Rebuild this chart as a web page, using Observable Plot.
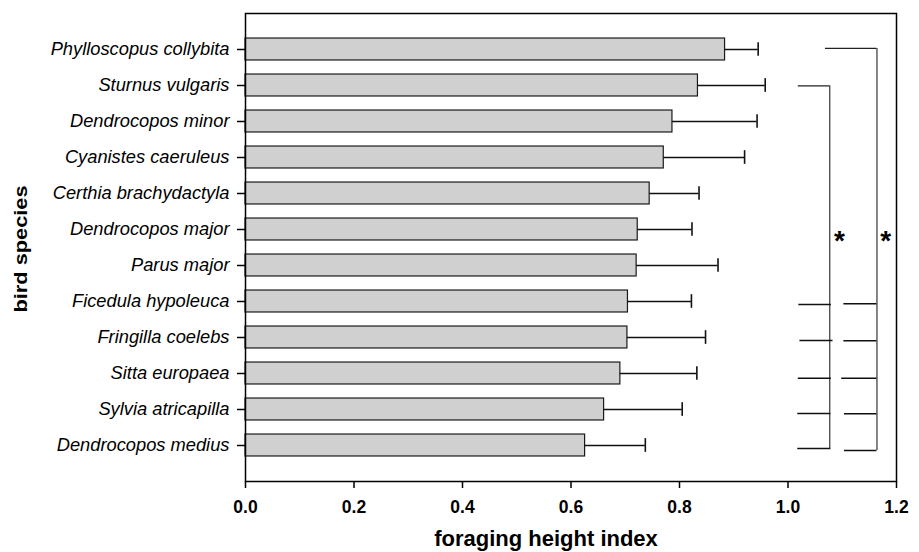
<!DOCTYPE html>
<html><head><meta charset="utf-8">
<script src="https://cdn.jsdelivr.net/npm/d3@7"></script>
<script src="https://cdn.jsdelivr.net/npm/@observablehq/plot@0.6"></script>
<style>body{margin:0;background:#fff}</style>
</head><body><div id="chart"></div>
<script>
// categories (top to bottom)
const species = [
  "Phylloscopus collybita", "Sturnus vulgaris", "Dendrocopos minor", "Cyanistes caeruleus",
  "Certhia brachydactyla", "Dendrocopos major", "Parus major", "Ficedula hypoleuca",
  "Fringilla coelebs", "Sitta europaea", "Sylvia atricapilla", "Dendrocopos medius"
];
// mean foraging height index
const means = [0.884, 0.834, 0.787, 0.771, 0.745, 0.723, 0.721, 0.705, 0.704, 0.691, 0.661, 0.626];
// end of the error bar (mean + SD)
const upper = [0.945, 0.958, 0.943, 0.920, 0.836, 0.823, 0.871, 0.822, 0.848, 0.832, 0.805, 0.737];
const xTicks = [0, 0.2, 0.4, 0.6, 0.8, 1.0, 1.2];

// significance brackets (row positions in category units, x in index units)
const bracketX = [1.077, 1.164];
const bracketTopRow = [1.01, -0.03];
const bracketTopX1 = [1.019, 1.069];
const bracketBottomRow = [11.09, 11.14];
const innerTickRows = [7.08, 8.08, 9.13, 10.11, 11.08];
const innerTickX1 = [1.020, 1.022, 1.019, 1.018, 1.018];
const innerTickX2 = [1.080, 1.083, 1.080, 1.079, 1.079];
const outerTickRows = [7.06, 8.09, 9.13, 10.12, 11.14];
const outerTickX1 = [1.103, 1.103, 1.099, 1.104, 1.104];
const starX = [1.095, 1.180];
const starRow = [5.22, 5.22];
const starLabel = ["*", "*"];

const rows = species.map((s, i) => ({i, s, m: means[i], u: upper[i]}));
const brackets = bracketX.map((x, k) => ({x, top: bracketTopRow[k], x1: bracketTopX1[k], bottom: bracketBottomRow[k]}));
const ticksIn = innerTickRows.map((r, k) => ({r, x1: innerTickX1[k], x2: innerTickX2[k]}));
const ticksOut = outerTickRows.map((r, k) => ({r, x1: outerTickX1[k], x2: bracketX[1]}));
const stars = starX.map((x, k) => ({x, r: starRow[k], t: starLabel[k]}));

const halfBar = 0.305, halfCap = 0.19;
const font = "'Liberation Sans', Arial, Helvetica, sans-serif";

const chart = Plot.plot({
  width: 919,
  height: 552,
  marginLeft: 245,
  marginRight: 23,
  marginTop: 13,
  marginBottom: 71,
  style: {fontFamily: font, color: "#000", background: "#fff"},
  x: {domain: [0, 1.2]},
  y: {domain: [12, -1]},
  marks: [
    Plot.rectX(rows, {x1: 0, x2: "m", y1: d => d.i - halfBar, y2: d => d.i + halfBar,
      fill: "#d0d0d0", stroke: "#1a1a1a", strokeWidth: 1.2}),
    Plot.ruleY(rows, {y: "i", x1: "m", x2: "u", stroke: "#111", strokeWidth: 1.6}),
    Plot.ruleX(rows, {x: "u", y1: d => d.i - halfCap, y2: d => d.i + halfCap, stroke: "#111", strokeWidth: 1.6}),
    // brackets
    Plot.ruleX(brackets, {x: "x", y1: "top", y2: "bottom", stroke: "#222", strokeWidth: 1.1}),
    Plot.ruleY(brackets, {y: "top", x1: "x1", x2: "x", stroke: "#222", strokeWidth: 1.3}),
    Plot.ruleY(ticksIn, {y: "r", x1: "x1", x2: "x2", stroke: "#111", strokeWidth: 1.5}),
    Plot.ruleY(ticksOut, {y: "r", x1: "x1", x2: "x2", stroke: "#111", strokeWidth: 1.5}),
    Plot.text(stars, {x: "x", y: "r", text: "t", fontSize: 28, fontWeight: "bold", dy: 4, fill: "#000"}),
    Plot.frame({stroke: "#000", strokeWidth: 1.5}),
    Plot.axisX({ticks: xTicks, tickFormat: d3.format(".1f"), tickSize: 7, tickPadding: 12,
      fontSize: 17.5, fontWeight: "bold", label: null, strokeWidth: 1.5}),
    Plot.axisY({ticks: d3.range(12), tickFormat: i => species[i], tickSize: 8, tickPadding: 8,
      fontSize: 18.3, fontStyle: "italic", label: null, strokeWidth: 1.5}),
    Plot.text(["foraging height index"], {frameAnchor: "bottom", dy: 49, dx: -25, lineAnchor: "top",
      fontSize: 22, fontWeight: "bold", fill: "#000"}),
    Plot.text(["bird species"], {frameAnchor: "left", dx: -224.5, dy: 1.5, rotate: -90, lineAnchor: "middle",
      textAnchor: "middle", fontSize: 17.5, fontWeight: "bold", fill: "#000", className: "ylabel"})
  ]
});
document.getElementById("chart").appendChild(chart);
d3.select(chart).selectAll(".ylabel text")
  .attr("textLength", 127)
  .attr("lengthAdjust", "spacingAndGlyphs");
</script>
</body></html>
